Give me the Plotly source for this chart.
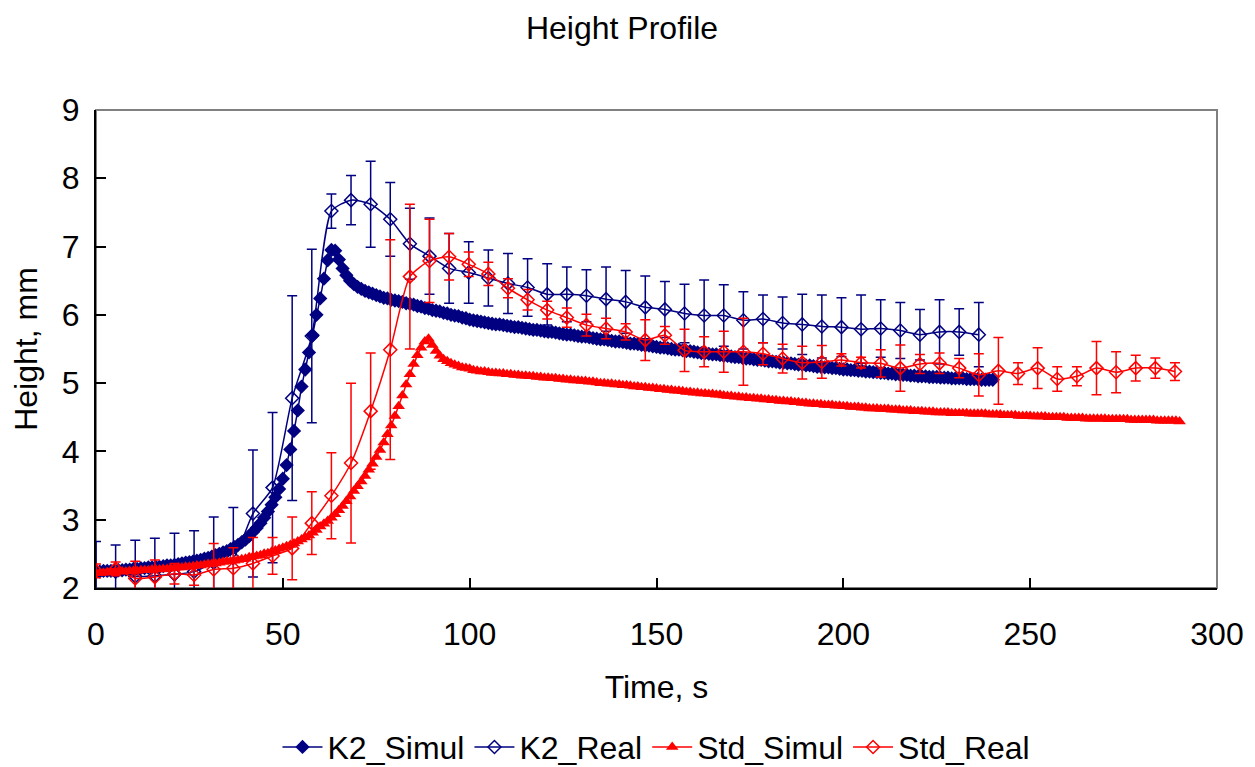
import plotly.graph_objects as go

# ---------------- data ----------------
sim_dt = 1.0
real_dt = 5.25

k2_simul = [
    2.24, 2.24, 2.25, 2.25, 2.25, 2.26, 2.26, 2.26, 2.27, 2.27, 2.28,
    2.28, 2.29, 2.29, 2.30, 2.30, 2.31, 2.31, 2.32, 2.33, 2.33,
    2.34, 2.35, 2.36, 2.37, 2.38, 2.39, 2.40, 2.41, 2.43, 2.44,
    2.46, 2.48, 2.50, 2.52, 2.54, 2.57, 2.60, 2.63, 2.67, 2.71,
    2.76, 2.82, 2.88, 2.95, 3.03, 3.12, 3.22, 3.33, 3.45, 3.60,
    3.80, 4.03, 4.30, 4.60, 4.95, 5.20, 5.45, 5.70, 6.00, 6.24,
    6.53, 6.80, 6.95, 6.94, 6.81, 6.68, 6.58, 6.50, 6.45, 6.41,
    6.38, 6.35, 6.33, 6.31, 6.29, 6.27, 6.25, 6.24, 6.22, 6.21,
    6.20, 6.19, 6.17, 6.16, 6.15, 6.13, 6.12, 6.10, 6.09, 6.07,
    6.06, 6.05, 6.03, 6.02, 6.00, 5.99, 5.98, 5.96, 5.95, 5.93,
    5.92, 5.91, 5.90, 5.89, 5.88, 5.87, 5.86, 5.86, 5.85, 5.84,
    5.83, 5.82, 5.82, 5.81, 5.80, 5.79, 5.78, 5.78, 5.77, 5.76,
    5.75, 5.75, 5.74, 5.73, 5.72, 5.71, 5.71, 5.70, 5.69, 5.68,
    5.68, 5.67, 5.66, 5.65, 5.64, 5.64, 5.63, 5.62, 5.61, 5.61,
    5.60, 5.59, 5.58, 5.58, 5.57, 5.56, 5.55, 5.55, 5.54, 5.53,
    5.52, 5.52, 5.51, 5.50, 5.49, 5.49, 5.48, 5.47, 5.47, 5.46,
    5.45, 5.44, 5.44, 5.43, 5.42, 5.42, 5.41, 5.40, 5.40, 5.39,
    5.38, 5.38, 5.37, 5.36, 5.36, 5.35, 5.34, 5.34, 5.33, 5.32,
    5.32, 5.31, 5.30, 5.30, 5.29, 5.29, 5.28, 5.27, 5.27, 5.26,
    5.26, 5.25, 5.24, 5.24, 5.23, 5.23, 5.22, 5.22, 5.21, 5.20,
    5.20, 5.19, 5.19, 5.18, 5.18, 5.17, 5.17, 5.16, 5.16, 5.15,
    5.15, 5.14, 5.14, 5.13, 5.13, 5.12, 5.12, 5.11, 5.11, 5.10,
    5.10, 5.10, 5.09, 5.09, 5.09, 5.08, 5.08, 5.08, 5.07, 5.07,
    5.07, 5.07, 5.06, 5.06, 5.06, 5.06, 5.05, 5.05, 5.05, 5.05,
]

std_simul = [
    2.22, 2.22, 2.22, 2.23, 2.23, 2.23, 2.24, 2.24, 2.24, 2.25, 2.25,
    2.25, 2.26, 2.26, 2.26, 2.27, 2.27, 2.27, 2.28, 2.28, 2.29,
    2.29, 2.30, 2.30, 2.31, 2.31, 2.32, 2.33, 2.33, 2.34, 2.35,
    2.35, 2.36, 2.37, 2.38, 2.39, 2.39, 2.40, 2.41, 2.42, 2.43,
    2.45, 2.46, 2.47, 2.48, 2.50, 2.51, 2.53, 2.55, 2.57, 2.59,
    2.61, 2.63, 2.65, 2.68, 2.71, 2.74, 2.77, 2.81, 2.85, 2.90,
    2.94, 2.98, 3.03, 3.08, 3.14, 3.20, 3.27, 3.34, 3.42, 3.49,
    3.56, 3.64, 3.73, 3.82, 3.92, 4.02, 4.13, 4.25, 4.38, 4.52,
    4.66, 4.82, 4.98, 5.13, 5.28, 5.41, 5.52, 5.61, 5.65, 5.56,
    5.47, 5.40, 5.35, 5.32, 5.29, 5.27, 5.25, 5.23, 5.22, 5.21,
    5.19, 5.18, 5.17, 5.17, 5.16, 5.15, 5.15, 5.14, 5.14, 5.13,
    5.13, 5.12, 5.12, 5.11, 5.11, 5.10, 5.10, 5.09, 5.09, 5.08,
    5.08, 5.07, 5.07, 5.06, 5.06, 5.05, 5.05, 5.04, 5.04, 5.03,
    5.03, 5.02, 5.02, 5.01, 5.00, 5.00, 4.99, 4.99, 4.98, 4.98,
    4.97, 4.97, 4.96, 4.95, 4.95, 4.94, 4.94, 4.93, 4.93, 4.92,
    4.91, 4.91, 4.90, 4.90, 4.89, 4.89, 4.88, 4.87, 4.87, 4.86,
    4.86, 4.85, 4.85, 4.84, 4.84, 4.83, 4.83, 4.82, 4.81, 4.81,
    4.80, 4.80, 4.79, 4.79, 4.78, 4.78, 4.77, 4.77, 4.76, 4.76,
    4.75, 4.75, 4.74, 4.74, 4.73, 4.73, 4.72, 4.72, 4.71, 4.71,
    4.70, 4.70, 4.69, 4.69, 4.68, 4.68, 4.68, 4.67, 4.67, 4.66,
    4.66, 4.65, 4.65, 4.65, 4.64, 4.64, 4.63, 4.63, 4.63, 4.62,
    4.62, 4.62, 4.61, 4.61, 4.61, 4.60, 4.60, 4.60, 4.59, 4.59,
    4.59, 4.58, 4.58, 4.58, 4.57, 4.57, 4.57, 4.57, 4.56, 4.56,
    4.56, 4.56, 4.56, 4.55, 4.55, 4.55, 4.55, 4.55, 4.54, 4.54,
    4.54, 4.54, 4.53, 4.53, 4.53, 4.53, 4.52, 4.52, 4.52, 4.52,
    4.51, 4.51, 4.51, 4.51, 4.50, 4.50, 4.50, 4.50, 4.50, 4.49,
    4.49, 4.49, 4.49, 4.49, 4.48, 4.48, 4.48, 4.48, 4.48, 4.48,
    4.47, 4.47, 4.47, 4.47, 4.47, 4.47, 4.46, 4.46, 4.46, 4.46,
    4.46, 4.46, 4.46, 4.45, 4.45, 4.45, 4.45, 4.45, 4.45, 4.44,
]

k2_real = [
    2.24, 2.24, 2.17, 2.18, 2.20, 2.24, 2.37, 2.44, 3.09, 3.47,
    4.78, 5.69, 7.52, 7.68, 7.62, 7.40, 7.04, 6.86, 6.68, 6.62,
    6.54, 6.46, 6.40, 6.30, 6.30, 6.28, 6.23, 6.19, 6.11, 6.08,
    6.02, 5.99, 5.99, 5.92, 5.94, 5.88, 5.86, 5.83, 5.82, 5.79,
    5.80, 5.77, 5.71, 5.75, 5.75, 5.71,
]
k2_err = [
    0.44, 0.39, 0.53, 0.55, 0.60, 0.60, 0.67, 0.74, 0.93, 1.10,
    1.50, 1.27, 0.25, 0.36, 0.63, 0.54, 0.52, 0.56, 0.51, 0.45,
    0.41, 0.44, 0.42, 0.45, 0.40, 0.38, 0.47, 0.46, 0.46, 0.41,
    0.43, 0.52, 0.45, 0.42, 0.35, 0.38, 0.44, 0.46, 0.43, 0.50,
    0.42, 0.41, 0.37, 0.47, 0.34, 0.47,
]

std_real = [
    2.25, 2.28, 2.14, 2.16, 2.21, 2.19, 2.27, 2.29, 2.36, 2.47,
    2.58, 2.95, 3.35, 3.83, 4.59, 5.49, 6.56, 6.79, 6.85, 6.74,
    6.60, 6.39, 6.22, 6.07, 5.96, 5.85, 5.80, 5.75, 5.63, 5.70,
    5.48, 5.46, 5.46, 5.46, 5.43, 5.36, 5.30, 5.31, 5.34, 5.30,
    5.29, 5.22, 5.28, 5.29, 5.22, 5.12, 5.18, 5.14, 5.22, 5.06,
    5.10, 5.22, 5.16, 5.22, 5.22, 5.17,
]
std_err = [
    0.10, 0.10, 0.25, 0.25, 0.15, 0.15, 0.38, 0.30, 0.38, 0.27,
    0.46, 0.46, 0.63, 1.17, 0.85, 1.61, 1.06, 0.61, 0.34, 0.18,
    0.17, 0.14, 0.15, 0.13, 0.14, 0.16, 0.15, 0.12, 0.30, 0.13,
    0.31, 0.22, 0.30, 0.49, 0.16, 0.21, 0.24, 0.24, 0.09, 0.08,
    0.20, 0.34, 0.14, 0.15, 0.14, 0.31, 0.49, 0.16, 0.30, 0.18,
    0.14, 0.39, 0.30, 0.19, 0.15, 0.13,
]

k2_sim_t = [i * sim_dt for i in range(len(k2_simul))]
std_sim_t = [i * sim_dt for i in range(len(std_simul))]
k2_real_t = [round(i * real_dt, 2) for i in range(len(k2_real))]
std_real_t = [round(i * real_dt, 2) for i in range(len(std_real))]

# ---------------- style ----------------
NAVY = "#000080"
RED = "#FF0000"
FONT = "Liberation Sans, Arial, sans-serif"
FS = 32
# the page body has an 8px default margin, so the figure is 8px smaller
W, H = 1247, 759

fig = go.Figure()

fig.add_trace(go.Scatter(
    x=k2_sim_t, y=k2_simul, name="K2_Simul", mode="lines+markers",
    line=dict(color=NAVY, width=1.5),
    marker=dict(symbol="diamond", size=11, color=NAVY),
))
fig.add_trace(go.Scatter(
    x=k2_real_t, y=k2_real, name="K2_Real", mode="lines+markers",
    line=dict(color=NAVY, width=1.5, shape="spline", smoothing=0.6),
    marker=dict(symbol="diamond-open", size=10, color=NAVY, line=dict(width=1.5)),
    error_y=dict(type="data", array=k2_err, visible=True, color=NAVY,
                 thickness=1.5, width=5),
))
fig.add_trace(go.Scatter(
    x=std_sim_t, y=std_simul, name="Std_Simul", mode="lines+markers",
    line=dict(color=RED, width=1.5),
    marker=dict(symbol="triangle-up", size=11, color=RED),
))
fig.add_trace(go.Scatter(
    x=std_real_t, y=std_real, name="Std_Real", mode="lines+markers",
    line=dict(color=RED, width=1.5, shape="spline", smoothing=0.6),
    marker=dict(symbol="diamond-open", size=10, color=RED, line=dict(width=1.5)),
    error_y=dict(type="data", array=std_err, visible=True, color=RED,
                 thickness=1.5, width=5),
))

fig.update_layout(
    width=W, height=H, autosize=False,
    paper_bgcolor="white", plot_bgcolor="white",
    font=dict(family=FONT, size=FS, color="black"),
    margin=dict(l=88, r=38, t=102, b=179, pad=0, autoexpand=False),
    title=dict(text="Height Profile", x=614 / W, xref="container", xanchor="center",
               y=1 - 20 / H, yref="container", yanchor="middle",
               font=dict(family=FONT, size=FS, color="black")),
    showlegend=True,
    legend=dict(orientation="h", x=0.5, xanchor="center", y=-0.333, yanchor="middle",
                font=dict(family=FONT, size=FS, color="black"),
                bgcolor="rgba(0,0,0,0)", itemwidth=40),
    shapes=[dict(type="rect", xref="paper", yref="paper", x0=0, y0=0, x1=1, y1=1,
                 line=dict(color="#808080", width=2), layer="below")],
)

fig.update_xaxes(
    range=[0, 300], tick0=0, dtick=50, ticks="inside", ticklen=10, tickwidth=1.5,
    tickcolor="black", showline=True, linecolor="black", linewidth=2,
    showgrid=False, zeroline=False, ticklabelstandoff=17, automargin=False,
    title=dict(text="Time, s", standoff=24, font=dict(family=FONT, size=FS)),
)
fig.update_yaxes(
    range=[2, 9], tick0=2, dtick=1, ticks="inside", ticklen=10, tickwidth=1.5,
    tickcolor="black", showline=True, linecolor="black", linewidth=2,
    showgrid=False, zeroline=False, ticklabelstandoff=8, automargin=False,
    title=dict(text="Height, mm", standoff=25, font=dict(family=FONT, size=FS)),
)

fig.write_html("out.html")
